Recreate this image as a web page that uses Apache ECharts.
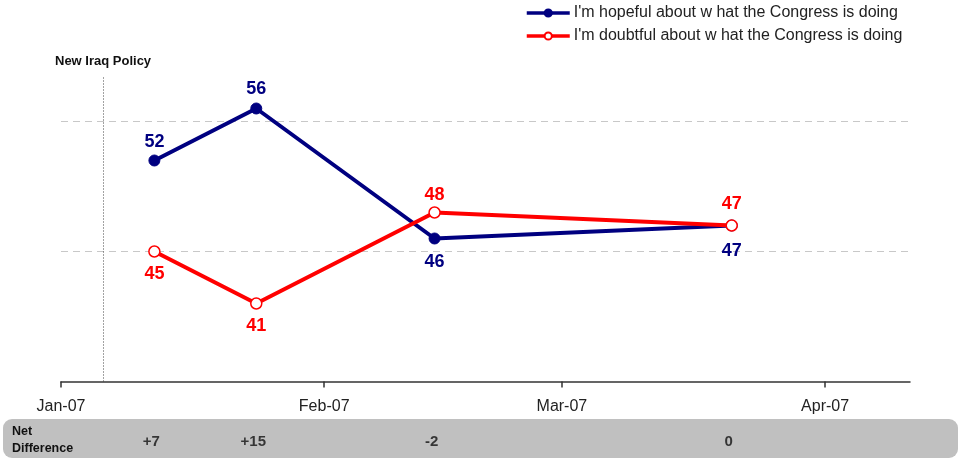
<!DOCTYPE html>
<html><head><meta charset="utf-8">
<script src="https://cdn.jsdelivr.net/npm/echarts@6/dist/echarts.min.js"></script>
<style>html,body{margin:0;padding:0;background:#fff}#c{width:961px;height:459px}</style>
</head><body><div id="c"></div>
<script>
const surveyDates = ['2007-01-12', '2007-01-24', '2007-02-14', '2007-03-21'];
const hopeful = [52, 56, 46, 47];
const doubtful = [45, 41, 48, 47];
const netDifference = ['+7', '+15', '-2', '0'];
const tickDates = ['2007-01-01', '2007-02-01', '2007-03-01', '2007-04-01'];
const tickLabels = ['Jan-07', 'Feb-07', 'Mar-07', 'Apr-07'];
const policyDate = '2007-01-06';
const xStart = '2007-01-01';
const xEnd = '2007-04-11';
const hopefulName = "I'm hopeful about w hat the Congress is doing";
const doubtfulName = "I'm doubtful about w hat the Congress is doing";

// label placement (style only)
const hopefulLabelPos = ['top', 'top', 'bottom', 'bottom'];
const hopefulLabelDist = [3, 4, 8.5, 11];
const doubtfulLabelPos = ['bottom', 'bottom', 'top', 'top'];
const doubtfulLabelDist = [7, 7, 2, 6];

function day(s) {
  const p = s.split('-').map(Number);
  return (Date.UTC(p[0], p[1] - 1, p[2]) - Date.UTC(2007, 0, 1)) / 86400000;
}
const xMin = day(xStart), xMax = day(xEnd);
const tickDays = tickDates.map(day);
const labelMap = {};
tickDays.forEach((d, i) => labelMap[d] = tickLabels[i]);

const FONT = 'Liberation Sans, Arial, sans-serif';
const NAVY = '#000080', RED = '#ff0000';

const chart = echarts.init(document.getElementById('c'));
chart.setOption({
  animation: false,
  textStyle: { fontFamily: FONT },
  legend: {
    orient: 'vertical', left: 520, top: 0, itemWidth: 43, itemHeight: 9, itemGap: 7,
    lineStyle: { width: 3.5 },
    textStyle: { fontSize: 16, color: '#222', fontFamily: FONT, padding: [0, 0, 0, -1] },
    data: [hopefulName, doubtfulName]
  },
  grid: [
    { left: 61, right: 51, top: 76, bottom: 77.5 },
    { left: 61, right: 51, top: 421, height: 39 }
  ],
  xAxis: [
    {
      type: 'value', min: xMin, max: xMax, gridIndex: 0,
      axisLine: { show: true, lineStyle: { color: '#333', width: 1.5 } },
      axisTick: { show: true, customValues: tickDays, length: 6, lineStyle: { color: '#333', width: 1.5 } },
      axisLabel: { customValues: tickDays, formatter: v => labelMap[v] || '', fontSize: 16, color: '#222', margin: 17, fontFamily: FONT },
      splitLine: { show: false }
    },
    { type: 'value', min: xMin, max: xMax, gridIndex: 1, show: false }
  ],
  yAxis: [
    {
      type: 'value', min: 35, max: 58.5, interval: 10, gridIndex: 0,
      axisLine: { show: false }, axisTick: { show: false }, axisLabel: { show: false },
      splitLine: { show: true, showMinLine: false, showMaxLine: false, lineStyle: { color: '#c8c8c8', type: [7, 5], width: 1 } }
    },
    { type: 'value', min: 0, max: 1, gridIndex: 1, show: false }
  ],
  graphic: [
    { type: 'rect', z: -10, shape: { x: 3, y: 419, width: 955, height: 39, r: 9 }, style: { fill: '#c0c0c0' } },
    { type: 'text', z: 10, left: 12, top: 423, style: { text: 'Net\nDifference', fontSize: 12.5, fontWeight: 'bold', fill: '#111', lineHeight: 17, fontFamily: FONT } },
    { type: 'text', z: 10, left: 55, top: 55, style: { text: 'New Iraq Policy', fontSize: 13, fontWeight: 'bold', fill: '#111', fontFamily: FONT } }
  ],
  series: [
    {
      name: hopefulName, type: 'line', xAxisIndex: 0, yAxisIndex: 0,
      data: surveyDates.map((d, i) => ({ value: [day(d), hopeful[i]], label: { position: hopefulLabelPos[i], distance: hopefulLabelDist[i] } })),
      lineStyle: { color: NAVY, width: 4 }, itemStyle: { color: NAVY, borderColor: NAVY, borderWidth: 1 },
      symbol: 'circle', symbolSize: 11, z: 3,
      label: { show: true, formatter: p => p.value[1], fontSize: 18, fontWeight: 'bold', color: NAVY, fontFamily: FONT },
      markLine: {
        silent: true, symbol: 'none', label: { show: false },
        lineStyle: { color: '#444', type: [1, 2], width: 1 },
        data: [{ xAxis: day(policyDate) }]
      }
    },
    {
      name: doubtfulName, type: 'line', xAxisIndex: 0, yAxisIndex: 0,
      data: surveyDates.map((d, i) => ({ value: [day(d), doubtful[i]], label: { position: doubtfulLabelPos[i], distance: doubtfulLabelDist[i] } })),
      lineStyle: { color: RED, width: 4 }, itemStyle: { color: '#fff', borderColor: RED, borderWidth: 1.5 },
      symbol: 'circle', symbolSize: 11, z: 4,
      label: { show: true, formatter: p => p.value[1], fontSize: 18, fontWeight: 'bold', color: RED, fontFamily: FONT }
    },
    {
      type: 'scatter', xAxisIndex: 1, yAxisIndex: 1, symbolSize: 1,
      itemStyle: { color: 'rgba(0,0,0,0)' }, silent: true,
      data: surveyDates.map((d, i) => ({ value: [day(d), 0.5], name: netDifference[i] })),
      label: { show: true, position: 'inside', offset: [-3, 2], formatter: p => p.name, fontSize: 15, fontWeight: 'bold', color: '#111', fontFamily: FONT }
    }
  ]
});
</script></body></html>
